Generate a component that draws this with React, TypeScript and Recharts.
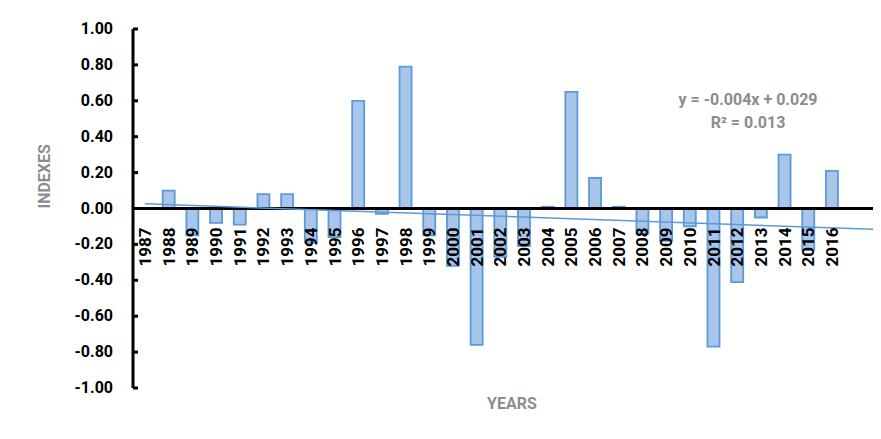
import { Bar, ComposedChart, LabelList, Line, ReferenceLine, XAxis, YAxis } from 'recharts';

const years = [
  '1987', '1988', '1989', '1990', '1991', '1992', '1993', '1994', '1995', '1996',
  '1997', '1998', '1999', '2000', '2001', '2002', '2003', '2004', '2005', '2006',
  '2007', '2008', '2009', '2010', '2011', '2012', '2013', '2014', '2015', '2016',
  '', '',
];

const indexes = [
  0.002, 0.1, -0.15, -0.08, -0.09, 0.08, 0.08, -0.19, -0.16, 0.6,
  -0.03, 0.79, -0.15, -0.32, -0.76, -0.27, -0.21, 0.01, 0.65, 0.17,
  0.01, -0.14, -0.18, -0.1, -0.77, -0.41, -0.05, 0.3, -0.23, 0.21,
  null, null,
];

// linear trend, read at the first and last category
const trendStart = 0.026;
const trendEnd = -0.117;

const yTicks = [-1, -0.8, -0.6, -0.4, -0.2, 0, 0.2, 0.4, 0.6, 0.8, 1];

const data = years.map((y, i) => ({
  year: y,
  value: indexes[i],
  trend: i === 0 ? trendStart : i === years.length - 1 ? trendEnd : null,
}));

const FONT = 'Roboto, "Liberation Sans", Arial, sans-serif';

function YTick(props: any) {
  const { x, y, payload } = props;
  return (
    <g>
      <text
        x={x}
        y={y}
        dy={5}
        textAnchor="end"
        fontFamily={FONT}
        fontWeight={700}
        fontSize={16}
        fill="#000"
      >
        {payload.value.toFixed(2)}
      </text>
      <line x1={x + 20} x2={x + 25} y1={y} y2={y} stroke="#000" strokeWidth={3} />
    </g>
  );
}

function YearLabel(props: any) {
  const { x, y, width, height, value } = props;
  if (!value) return null;
  const zero = y + height;
  const cx = x + width / 2;
  return (
    <text
      x={cx}
      y={zero + 19}
      transform={`rotate(-90 ${cx} ${zero + 19})`}
      dy={6}
      textAnchor="end"
      fontFamily={FONT}
      fontWeight={700}
      fontSize={17}
      fill="#000"
    >
      {value}
    </text>
  );
}

export default function App() {
  return (
    <div style={{ position: 'relative', width: 873, height: 431 }}>
      <div style={{ position: 'absolute', left: 0, top: 0, width: 873, height: 431, overflow: 'hidden' }}>
        <ComposedChart
          width={900}
          height={431}
          data={data}
          margin={{ top: 21, right: 17, bottom: 21, left: 0 }}
        >
          <XAxis
            dataKey="year"
            height={30}
            tick={false}
            tickLine={false}
            axisLine={false}
            label={{
              value: 'YEARS',
              position: 'center',
              fill: '#8c8c8c',
              fontFamily: FONT,
              fontWeight: 700,
              fontSize: 16,
            }}
          />
          <YAxis
            width={125}
            domain={[-1, 1]}
            ticks={yTicks}
            interval={0}
            tickSize={0}
            tickMargin={20}
            tick={<YTick />}
            axisLine={{ stroke: '#000', strokeWidth: 3 }}
            label={{
              value: 'INDEXES',
              angle: -90,
              position: 'insideLeft',
              offset: 36,
              fill: '#8c8c8c',
              fontFamily: FONT,
              fontWeight: 700,
              fontSize: 16,
            }}
          />
          <ReferenceLine y={0} stroke="#000" strokeWidth={3} />
          <Bar
            dataKey="value"
            barSize={12}
            fill="#a8c5eb"
            stroke="#5b9bd5"
            strokeWidth={1.8}
            isAnimationActive={false}
          >
            <LabelList dataKey="year" content={<YearLabel />} />
          </Bar>
          <Line
            dataKey="trend"
            type="linear"
            stroke="#5b9bd5"
            strokeWidth={1.5}
            dot={false}
            connectNulls
            isAnimationActive={false}
          />
        </ComposedChart>
      </div>
      <div
        style={{
          position: 'absolute',
          left: -2,
          top: 2,
          width: 2,
          height: 427,
          background: '#8fd0d0',
        }}
      />
      <div
        style={{
          position: 'absolute',
          left: 640,
          top: 80,
          width: 200,
          textAlign: 'center',
          fontFamily: FONT,
          fontWeight: 700,
          fontSize: 16,
          lineHeight: '23px',
          color: '#8c8c8c',
        }}
      >
        <div>y = -0.004x + 0.029</div>
        <div>R² = 0.013</div>
      </div>
    </div>
  );
}
